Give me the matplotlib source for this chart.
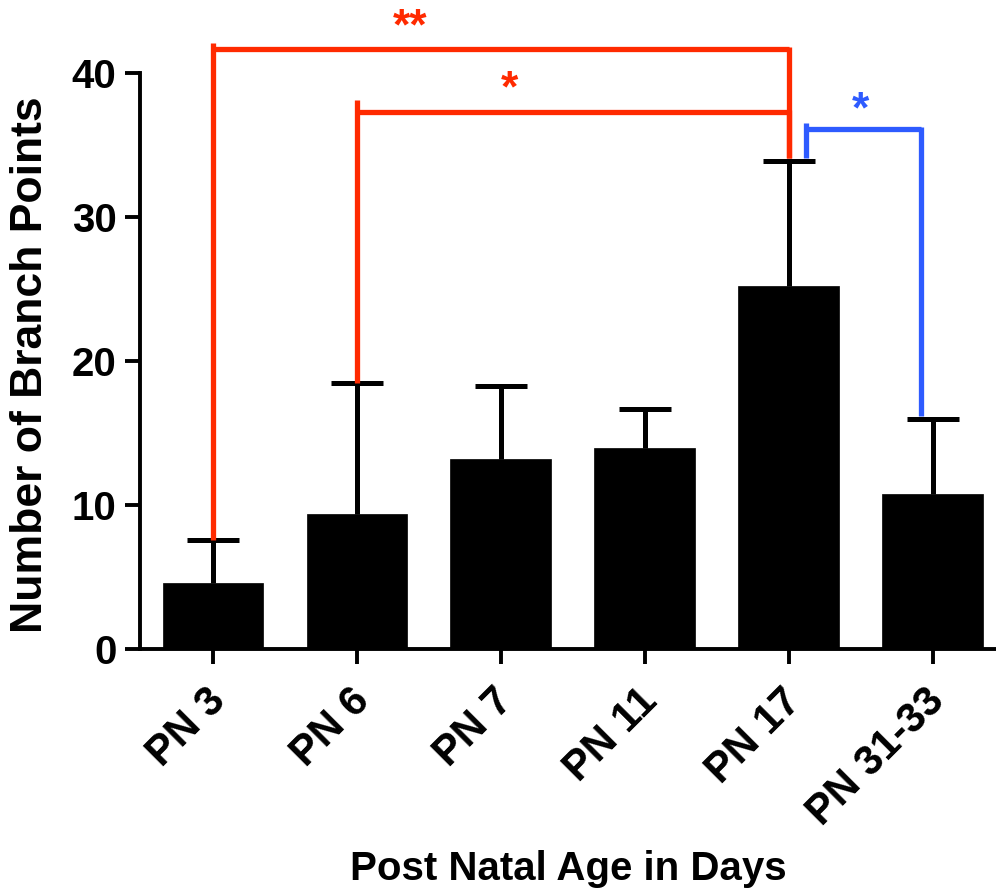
import matplotlib
matplotlib.use("Agg")
import matplotlib.pyplot as plt
import matplotlib.transforms as mtransforms
import numpy as np

categories = ["PN 3", "PN 6", "PN 7", "PN 11", "PN 17", "PN 31-33"]
means = [4.6, 9.35, 13.2, 13.95, 25.2, 10.75]
sd = [2.95, 9.15, 5.05, 2.7, 8.7, 5.2]

red = "#FF2A00"
blue = "#2E5BFF"

plt.rcParams['font.family'] = ['Liberation Sans', 'DejaVu Sans']
plt.rcParams['font.weight'] = 'bold'

fig = plt.figure(figsize=(9.96, 8.92), dpi=100)
ax = fig.add_axes([140/996, (892-649)/892, 1 - 140/996, 649/892])

x = np.arange(len(categories))
ax.bar(x, means, width=0.70, color="black", edgecolor="black", linewidth=0.5, zorder=2)
eb = ax.errorbar(x, means, yerr=[np.zeros(len(sd)), sd], fmt="none", ecolor="black",
                 elinewidth=3.6, capsize=19, capthick=3.6, zorder=1)
# hide the lower caps (only the upper half of the error bar is shown)
eb[1][0].set_visible(False)

ax.set_xlim(-0.507, 5.44)
ax.set_ylim(0, 45.07)
ax.set_yticks([0, 10, 20, 30, 40])
ax.spines['left'].set_bounds(0, 40)
for s in ['top', 'right']:
    ax.spines[s].set_visible(False)
for s in ['left', 'bottom']:
    ax.spines[s].set_linewidth(2.8)
ax.tick_params(axis='both', width=2.8, length=11)
ax.tick_params(axis='y', labelsize=29, pad=6)
ax.tick_params(axis='x', labelsize=30, pad=12)
ax.set_xticks(x)
ax.set_xticklabels(categories, rotation=45, ha='right', rotation_mode='anchor', fontweight='bold')
shift = mtransforms.ScaledTranslation(-8/100, 0, fig.dpi_scale_trans)
for lab in ax.get_xticklabels():
    lab.set_transform(lab.get_transform() + shift)
for lab in ax.get_yticklabels():
    lab.set_fontweight('bold')

ax.set_ylabel("Number of Branch Points", fontsize=32, fontweight='bold')
ax.yaxis.set_label_coords(-0.104, 0.4376)
ax.set_xlabel("Post Natal Age in Days", fontsize=29, fontweight='bold', labelpad=12)

lw = 3.8
def bracket(x1, x2, yline, ytop, ylow1, ylow2, color, label, tx, ty, fs):
    ax.plot([x1, x1], [ylow1, ytop], color=color, lw=lw, solid_capstyle='butt', clip_on=False, zorder=3)
    ax.plot([x1, x2], [yline, yline], color=color, lw=lw, solid_capstyle='butt', clip_on=False, zorder=3)
    ax.plot([x2, x2], [yline + 0.15, ylow2], color=color, lw=lw, solid_capstyle='butt', clip_on=False, zorder=3)
    ax.text(tx, ty, label, color=color, fontsize=fs, fontweight='bold', ha='center', va='center', clip_on=False)

bracket(0, 4, 41.67, 42.1, means[0] + sd[0], means[4] + sd[4] + 0.2, red, "**", 1.37, 43.1, 32)
bracket(1, 4, 37.29, 38.1, means[1] + sd[1], means[4] + sd[4] + 0.2, red, "*", 2.06, 38.8, 32)
bracket(4.118, 4.92, 36.1, 36.5, means[4] + sd[4] + 0.2, means[5] + sd[5] + 0.2, blue, "*", 4.50, 37.4, 32)

fig.savefig("out.png", dpi=100)
